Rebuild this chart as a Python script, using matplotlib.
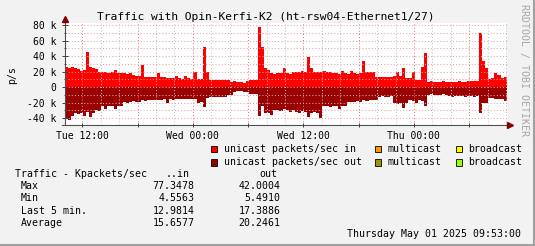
import matplotlib
matplotlib.use("Agg")
import matplotlib.pyplot as plt
from matplotlib.patches import Rectangle
from matplotlib.lines import Line2D
from matplotlib.ticker import MultipleLocator, FuncFormatter
import numpy as np

plt.rcParams['font.family'] = 'DejaVu Sans Mono'

W, H = 535, 246

title = "Traffic with Opin-Kerfi-K2 (ht-rsw04-Ethernet1/27)"

# hours since Tue 00:00, one sample every 20 minutes
t_start = 10.07
t_step = 1 / 3
days = ['Tue', 'Wed', 'Thu']

# unicast packets/sec, in thousands
pkts_in = [26, 25, 26, 24, 23, 21, 22, 45, 26, 24,
           23, 20, 19, 20, 18, 19, 22, 18, 17.6, 18,
           17, 17.5, 16, 14, 14.5, 28, 13, 13.5, 12.5, 13,
           18, 13, 12.5, 12, 11, 11.5, 14, 11, 10.5, 14.5,
           11, 10, 20, 10, 10.5, 51, 20, 9, 9.5, 8.5,
           9, 9, 9.5, 9, 7, 7.5, 6.5, 7, 4.6, 7.5,
           9, 9, 8.5, 77.3, 52, 24, 22, 18, 17, 18,
           17.5, 24, 18, 17, 20, 19.5, 20, 21, 20, 39,
           24, 20, 19.5, 20, 21, 20, 19, 17.6, 18, 17,
           21, 18, 17, 21, 17.5, 17, 18, 33, 20, 20,
           20, 13.5, 13, 13, 12.5, 13, 13.5, 14, 20, 14,
           24, 11, 11.5, 20, 9, 9.5, 26, 44, 7, 7.5,
           7, 6.5, 7, 7.5, 7, 6.5, 7, 7, 7.5, 7,
           6.5, 7.5, 8, 8, 8, 70, 33, 24, 10, 11,
           17.7, 15, 12, 13]

pkts_out = [40, 42, 38, 34, 35, 34, 38, 32, 39, 33,
            30, 31, 25, 29, 25, 24.5, 29, 24, 24, 19,
            20, 19, 18.5, 19, 19, 17, 17.5, 17, 16.5, 17,
            17, 16.5, 16, 21, 16, 16.5, 16, 15.5, 16, 16,
            15.5, 15, 15, 21, 19, 26, 14, 13, 13, 13.5,
            12.5, 13, 13, 10, 10, 6, 5.5, 5.5, 6, 6,
            9, 9, 9.5, 38, 25, 34, 34, 36, 30, 30,
            31, 29, 30, 32, 30, 32, 33, 31, 32, 39,
            33, 32, 34, 40, 25, 25, 26, 25, 24, 28,
            25, 24, 19, 19.5, 19, 18.5, 19, 17, 17.5, 17,
            16.5, 17, 12.5, 12, 13, 12.5, 12, 21, 21.5, 20,
            27.5, 20, 17, 17.5, 20, 17, 17.5, 24.5, 10, 9.5,
            10, 10.5, 10, 9.5, 10, 12, 12.5, 12, 11.5, 12,
            12.5, 12, 12, 12.5, 12, 34, 21, 20, 14.5, 14,
            15.5, 16, 15, 17.4]

legend_in = ['unicast packets/sec in', 'multicast', 'broadcast']
legend_out = ['unicast packets/sec out', 'multicast', 'broadcast']
colors_in = ['#ff0000', '#ff9900', '#ffff00']
colors_out = ['#990000', '#999900', '#99ff00']

stat_names = ['Max', 'Min', 'Last 5 min.', 'Average']
stat_in = [77.3478, 4.5563, 12.9814, 15.6577]
stat_out = [42.0004, 5.4910, 17.3886, 20.2461]
stamp = "Thursday May 01 2025 09:53:00"

fig = plt.figure(figsize=(W / 100, H / 100), dpi=100)
fig.patch.set_facecolor('#f2f2f2')

# plot area in pixels
x0, x1, y0, y1 = 64.5, 506.7, 23, 125
ax = fig.add_axes([x0 / W, 1 - y1 / H, (x1 - x0) / W, (y1 - y0) / H])
ax.set_facecolor('white')

edges = t_start + np.arange(len(pkts_in) + 1) * t_step
ax.stairs(np.array(pkts_in) * 1000, edges, fill=True, color='#ff0000', baseline=0, lw=0)
ax.stairs(-np.array(pkts_out) * 1000, edges, fill=True, color='#990000', baseline=0, lw=0)

ax.set_xlim(t_start, t_start + 48)
ax.set_ylim(-49000, 82600)

ax.xaxis.set_major_locator(MultipleLocator(6))
ax.xaxis.set_minor_locator(MultipleLocator(2))
ax.yaxis.set_major_locator(MultipleLocator(20000))
ax.yaxis.set_minor_locator(MultipleLocator(10000))


def fmt_time(h, pos):
    if h % 12:
        return ''
    return f"{days[int(h // 24)]} {int(h % 24):02d}:00"


def fmt_k(v, pos):
    return '0' if v == 0 else f"{v / 1000:.0f} k"


ax.xaxis.set_major_formatter(FuncFormatter(fmt_time))
ax.yaxis.set_major_formatter(FuncFormatter(fmt_k))

ax.set_axisbelow(False)
dot = (0, (1, 2))
ax.grid(which='major', axis='x', color='#e07a7a', ls=dot, lw=0.75)
ax.grid(which='minor', axis='x', color='#c4c4c4', ls=dot, lw=0.75)
ax.grid(which='both', axis='y', color='#eaa0a0', ls=dot, lw=0.75)

ax.tick_params(axis='both', which='both', labelsize=7, colors='#404040', labelcolor='black',
               width=0.7)
ax.tick_params(axis='x', which='major', direction='inout', length=3, pad=3)
ax.tick_params(axis='x', which='minor', length=0)
ax.tick_params(axis='y', which='major', direction='inout', length=4, pad=4)
ax.tick_params(axis='y', which='minor', direction='inout', length=2)

for s in ax.spines.values():
    s.set_visible(False)
ax.plot([0, 0], [0, 1.03], transform=ax.transAxes, clip_on=False, color='#505050', lw=0.8)
ax.plot([-0.005, 1.004], [0, 0], transform=ax.transAxes, clip_on=False, color='#505050', lw=0.8)
ax.plot(0, 1.035, marker='^', ms=4, color='#7f0000', transform=ax.transAxes, clip_on=False)
ax.plot(1.007, 0, marker='>', ms=4, color='#7f0000', transform=ax.transAxes, clip_on=False)


def ftext(x, y, s, **kw):
    kw.setdefault('fontsize', 7.1)
    kw.setdefault('va', 'center')
    fig.text(x / W, 1 - y / H, s, **kw)


ftext(266, 16.7, title, fontsize=8.1, ha='center')
ftext(11.7, 75, 'p/s', rotation=90, ha='center')
ftext(523.5, 4.5, 'RRDTOOL / TOBI OETIKER', rotation=270, ha='center', va='top',
      color='#a6a6a6')

# legend
sw_x = [210.6, 374.7, 455.5]
tx_x = [223.5, 387.4, 467.8]
for row_y, labels, cols in [(149, legend_in, colors_in), (162.3, legend_out, colors_out)]:
    for sx, tx, lab, c in zip(sw_x, tx_x, labels, cols):
        fig.add_artist(Rectangle((sx / W, 1 - (row_y + 3.3) / H), 6.7 / W, 6.7 / H,
                                 transform=fig.transFigure, fc=c, ec='black', lw=0.6))
        ftext(tx, row_y, lab)

# stats table
ftext(15.4, 174.3, 'Traffic - Kpackets/sec')
ftext(189.8, 174.3, '..in', ha='right')
ftext(277, 174.3, 'out', ha='right')
for k, (name, vi, vo) in enumerate(zip(stat_names, stat_in, stat_out)):
    ry = 186.3 + k * 12.15
    ftext(21, ry, name)
    ftext(194.5, ry, f"{vi:.4f}", ha='right')
    ftext(280.5, ry, f"{vo:.4f}", ha='right')

ftext(521, 234, stamp, ha='right')

# frame shadow
fig.add_artist(Line2D([0, 1], [0.8 / H, 0.8 / H], transform=fig.transFigure, color='#a0a0a0', lw=1.5))
fig.add_artist(Line2D([1 - 0.8 / W, 1 - 0.8 / W], [0, 1], transform=fig.transFigure, color='#a0a0a0', lw=1.5))

fig.savefig('out.png', dpi=100, facecolor=fig.get_facecolor())
